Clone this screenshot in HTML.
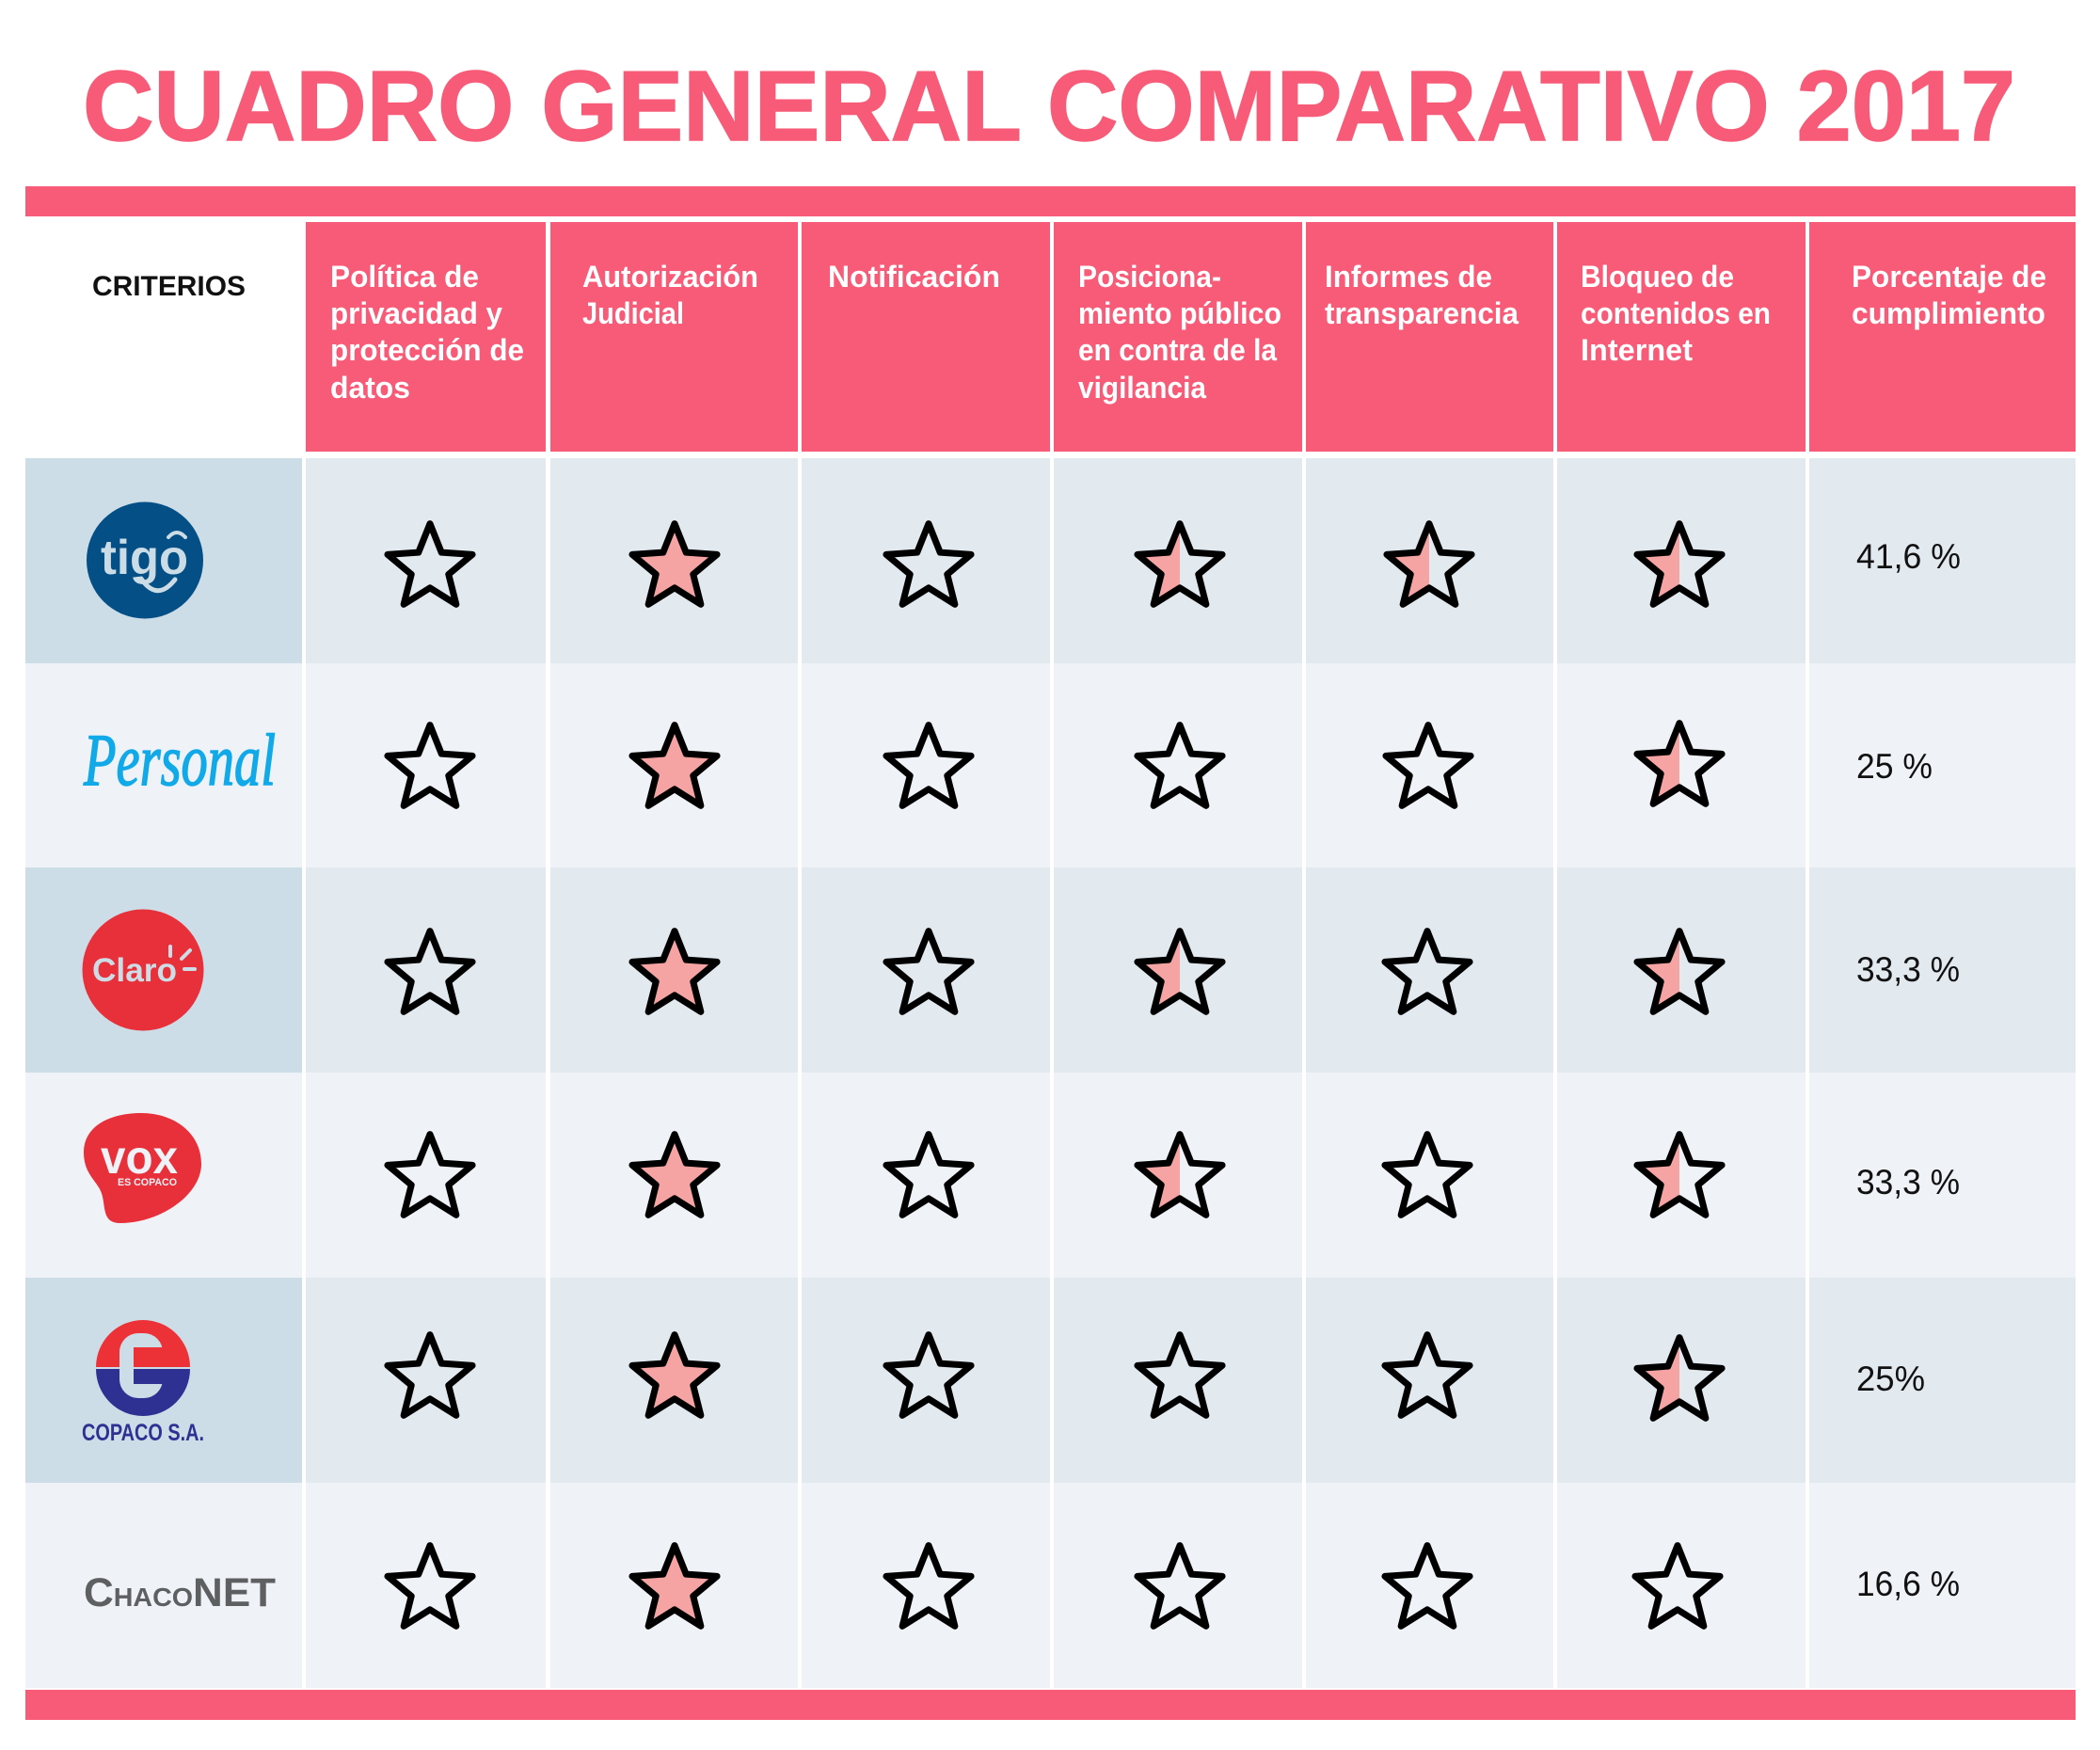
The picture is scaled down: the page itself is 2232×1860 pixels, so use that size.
<!DOCTYPE html>
<html><head><meta charset="utf-8"><style>
html,body{margin:0;padding:0;background:#fff;}
svg{display:block;}
text{font-family:"Liberation Sans",sans-serif;}
</style></head><body>
<svg width="2232" height="1860" viewBox="0 0 2232 1860" xmlns="http://www.w3.org/2000/svg">
<defs>
<path id="st" d="M0,-47.4 L12.23,-16.83 L45.08,-14.65 L19.78,6.43 L27.86,38.35 L0,20.8 L-27.86,38.35 L-19.78,6.43 L-45.08,-14.65 L-12.23,-16.83 Z"/>
<clipPath id="lh"><rect x="-60" y="-60" width="60" height="120"/></clipPath>
</defs>
<rect width="2232" height="1860" fill="#ffffff"/>
<text x="88" y="149" font-size="106" font-weight="bold" fill="#f75b77" stroke="#f75b77" stroke-width="1.5" textLength="2054" lengthAdjust="spacingAndGlyphs">CUADRO GENERAL COMPARATIVO 2017</text>
<rect x="27" y="198" width="2179" height="32" fill="#f75b77"/>
<g fill="#f75b77">
<rect x="325" y="236" width="255" height="244"/>
<rect x="585" y="236" width="263" height="244"/>
<rect x="852" y="236" width="264" height="244"/>
<rect x="1120" y="236" width="264" height="244"/>
<rect x="1388" y="236" width="263" height="244"/>
<rect x="1655" y="236" width="264" height="244"/>
<rect x="1923" y="236" width="283" height="244"/>
</g>
<text x="98" y="314" font-size="30" font-weight="bold" fill="#111" textLength="163" lengthAdjust="spacingAndGlyphs">CRITERIOS</text>
<g font-size="32" font-weight="bold" fill="#ffffff">
<text x="351" y="305" textLength="158" lengthAdjust="spacingAndGlyphs">Política de</text>
<text x="351" y="344" textLength="183" lengthAdjust="spacingAndGlyphs">privacidad y</text>
<text x="351" y="383" textLength="206" lengthAdjust="spacingAndGlyphs">protección de</text>
<text x="351" y="423" textLength="85" lengthAdjust="spacingAndGlyphs">datos</text>
<text x="619" y="305" textLength="187" lengthAdjust="spacingAndGlyphs">Autorización</text>
<text x="619" y="344" textLength="108" lengthAdjust="spacingAndGlyphs">Judicial</text>
<text x="880" y="305" textLength="183" lengthAdjust="spacingAndGlyphs">Notificación</text>
<text x="1146" y="305" textLength="152" lengthAdjust="spacingAndGlyphs">Posiciona-</text>
<text x="1146" y="344" textLength="216" lengthAdjust="spacingAndGlyphs">miento público</text>
<text x="1146" y="383" textLength="211" lengthAdjust="spacingAndGlyphs">en contra de la</text>
<text x="1146" y="423" textLength="136" lengthAdjust="spacingAndGlyphs">vigilancia</text>
<text x="1408" y="305" textLength="178" lengthAdjust="spacingAndGlyphs">Informes de</text>
<text x="1408" y="344" textLength="206" lengthAdjust="spacingAndGlyphs">transparencia</text>
<text x="1680" y="305" textLength="163" lengthAdjust="spacingAndGlyphs">Bloqueo de</text>
<text x="1680" y="344" textLength="202" lengthAdjust="spacingAndGlyphs">contenidos en</text>
<text x="1680" y="383" textLength="119" lengthAdjust="spacingAndGlyphs">Internet</text>
<text x="1968" y="305" textLength="207" lengthAdjust="spacingAndGlyphs">Porcentaje de</text>
<text x="1968" y="344" textLength="206" lengthAdjust="spacingAndGlyphs">cumplimiento</text>
</g>
<g>
<rect x="27" y="487" width="294" height="218" fill="#cddde7"/>
<g fill="#e2eaf0">
<rect x="325" y="487" width="255" height="218"/><rect x="585" y="487" width="263" height="218"/><rect x="852" y="487" width="264" height="218"/><rect x="1120" y="487" width="264" height="218"/><rect x="1388" y="487" width="263" height="218"/><rect x="1655" y="487" width="264" height="218"/><rect x="1923" y="487" width="283" height="218"/>
</g>
<g fill="#eff3f7">
<rect x="27" y="705" width="294" height="217"/>
<rect x="325" y="705" width="255" height="217"/><rect x="585" y="705" width="263" height="217"/><rect x="852" y="705" width="264" height="217"/><rect x="1120" y="705" width="264" height="217"/><rect x="1388" y="705" width="263" height="217"/><rect x="1655" y="705" width="264" height="217"/><rect x="1923" y="705" width="283" height="217"/>
</g>
<rect x="27" y="922" width="294" height="218" fill="#cddde7"/>
<g fill="#e2eaf0">
<rect x="325" y="922" width="255" height="218"/><rect x="585" y="922" width="263" height="218"/><rect x="852" y="922" width="264" height="218"/><rect x="1120" y="922" width="264" height="218"/><rect x="1388" y="922" width="263" height="218"/><rect x="1655" y="922" width="264" height="218"/><rect x="1923" y="922" width="283" height="218"/>
</g>
<g fill="#eff3f7">
<rect x="27" y="1140" width="294" height="218"/>
<rect x="325" y="1140" width="255" height="218"/><rect x="585" y="1140" width="263" height="218"/><rect x="852" y="1140" width="264" height="218"/><rect x="1120" y="1140" width="264" height="218"/><rect x="1388" y="1140" width="263" height="218"/><rect x="1655" y="1140" width="264" height="218"/><rect x="1923" y="1140" width="283" height="218"/>
</g>
<rect x="27" y="1358" width="294" height="218" fill="#cddde7"/>
<g fill="#e2eaf0">
<rect x="325" y="1358" width="255" height="218"/><rect x="585" y="1358" width="263" height="218"/><rect x="852" y="1358" width="264" height="218"/><rect x="1120" y="1358" width="264" height="218"/><rect x="1388" y="1358" width="263" height="218"/><rect x="1655" y="1358" width="264" height="218"/><rect x="1923" y="1358" width="283" height="218"/>
</g>
<g fill="#eff3f7">
<rect x="27" y="1576" width="294" height="218"/>
<rect x="325" y="1576" width="255" height="218"/><rect x="585" y="1576" width="263" height="218"/><rect x="852" y="1576" width="264" height="218"/><rect x="1120" y="1576" width="264" height="218"/><rect x="1388" y="1576" width="263" height="218"/><rect x="1655" y="1576" width="264" height="218"/><rect x="1923" y="1576" width="283" height="218"/>
</g>
</g>
<rect x="27" y="1796" width="2179" height="32" fill="#f75b77"/>

<!-- tigo -->
<circle cx="154" cy="595.5" r="62" fill="#044f85"/>
<text x="107" y="610" font-size="52" font-weight="bold" fill="#cbdce6" textLength="93" lengthAdjust="spacingAndGlyphs">tigo</text>
<path d="M150,615 Q167,640 186,616" fill="none" stroke="#cbdce6" stroke-width="5" stroke-linecap="round"/>
<path d="M179,571 Q188,561 197,571" fill="none" stroke="#cbdce6" stroke-width="4" stroke-linecap="round"/>
<!-- Personal -->
<text x="89" y="834" style="font-family:'Liberation Serif',serif;font-style:italic" font-size="78" fill="#12a9e9" stroke="#12a9e9" stroke-width="1.5" textLength="204" lengthAdjust="spacingAndGlyphs">Personal</text>
<!-- Claro -->
<circle cx="152" cy="1031" r="64.5" fill="#e8303a"/>
<text x="98" y="1043" font-size="35" font-weight="bold" fill="#cddde7" textLength="90" lengthAdjust="spacingAndGlyphs">Claro</text>
<g stroke="#cddde7" stroke-width="4" stroke-linecap="round">
<line x1="181" y1="1006" x2="181" y2="1016"/>
<line x1="193" y1="1019" x2="202" y2="1010"/>
<line x1="196" y1="1030" x2="207" y2="1030"/>
</g>
<!-- VOX -->
<path d="M89,1225 C89,1196 118,1183 150,1183 C186,1183 214,1205 214,1237 C214,1270 170,1300 128,1300 C110,1300 112,1286 109,1272 C106,1256 89,1250 89,1225 Z" fill="#e8303a"/>
<text x="107" y="1247" font-size="50" font-weight="bold" fill="#eff3f7" textLength="82" lengthAdjust="spacingAndGlyphs">vox</text>
<text x="125" y="1260" font-size="11" font-weight="bold" fill="#eff3f7" textLength="63" lengthAdjust="spacingAndGlyphs">ES COPACO</text>
<!-- COPACO -->
<path d="M102,1453 A50,50 0 0 1 202,1453 Z" fill="#ec3237"/>
<path d="M102,1455 A50,50 0 0 0 202,1455 Z" fill="#2e3192"/>
<rect x="127" y="1417" width="46" height="69" rx="20" fill="#cddde7"/>
<rect x="142" y="1432" width="34" height="21" fill="#ec3237"/>
<rect x="142" y="1455" width="31" height="16" fill="#2e3192"/>
<rect x="100" y="1453" width="104" height="2" fill="#cddde7"/>
<text x="87" y="1531" font-size="25" font-weight="bold" fill="#2e3192" textLength="130" lengthAdjust="spacingAndGlyphs">COPACO S.A.</text>
<!-- CHACONET -->
<text x="89" y="1707" font-weight="bold" fill="#5e5f61" textLength="204" lengthAdjust="spacingAndGlyphs"><tspan font-size="43">C</tspan><tspan font-size="28">HACO</tspan><tspan font-size="43">NET</tspan></text>

<g stroke="#000" stroke-width="7" stroke-linejoin="round" fill="none">
<use href="#st" x="457" y="604"/>
<g transform="translate(717,604)"><use href="#st" fill="#f6a3a3"/></g>
<use href="#st" x="987" y="604"/>
<g transform="translate(1254,604)"><use href="#st" fill="#f6a3a3" stroke="none" clip-path="url(#lh)"/><use href="#st"/></g>
<g transform="translate(1519,604)"><use href="#st" fill="#f6a3a3" stroke="none" clip-path="url(#lh)"/><use href="#st"/></g>
<g transform="translate(1785,604)"><use href="#st" fill="#f6a3a3" stroke="none" clip-path="url(#lh)"/><use href="#st"/></g>

<use href="#st" x="457" y="818"/>
<g transform="translate(717,818)"><use href="#st" fill="#f6a3a3"/></g>
<use href="#st" x="987" y="818"/>
<use href="#st" x="1254" y="818"/>
<use href="#st" x="1518" y="818"/>
<g transform="translate(1785,816)"><use href="#st" fill="#f6a3a3" stroke="none" clip-path="url(#lh)"/><use href="#st"/></g>

<use href="#st" x="457" y="1037"/>
<g transform="translate(717,1037)"><use href="#st" fill="#f6a3a3"/></g>
<use href="#st" x="987" y="1037"/>
<g transform="translate(1254,1037)"><use href="#st" fill="#f6a3a3" stroke="none" clip-path="url(#lh)"/><use href="#st"/></g>
<use href="#st" x="1517" y="1037"/>
<g transform="translate(1785,1037)"><use href="#st" fill="#f6a3a3" stroke="none" clip-path="url(#lh)"/><use href="#st"/></g>

<use href="#st" x="457" y="1253"/>
<g transform="translate(717,1253)"><use href="#st" fill="#f6a3a3"/></g>
<use href="#st" x="987" y="1253"/>
<g transform="translate(1254,1253)"><use href="#st" fill="#f6a3a3" stroke="none" clip-path="url(#lh)"/><use href="#st"/></g>
<use href="#st" x="1517" y="1253"/>
<g transform="translate(1785,1253)"><use href="#st" fill="#f6a3a3" stroke="none" clip-path="url(#lh)"/><use href="#st"/></g>

<use href="#st" x="457" y="1466"/>
<g transform="translate(717,1466)"><use href="#st" fill="#f6a3a3"/></g>
<use href="#st" x="987" y="1466"/>
<use href="#st" x="1254" y="1466"/>
<use href="#st" x="1517" y="1466"/>
<g transform="translate(1785,1469)"><use href="#st" fill="#f6a3a3" stroke="none" clip-path="url(#lh)"/><use href="#st"/></g>

<use href="#st" x="457" y="1690"/>
<g transform="translate(717,1690)"><use href="#st" fill="#f6a3a3"/></g>
<use href="#st" x="987" y="1690"/>
<use href="#st" x="1254" y="1690"/>
<use href="#st" x="1517" y="1690"/>
<use href="#st" x="1783" y="1690"/>
</g>

<g font-size="37" fill="#111">
<text x="1973" y="604" textLength="111" lengthAdjust="spacingAndGlyphs">41,6 %</text>
<text x="1973" y="827" textLength="81" lengthAdjust="spacingAndGlyphs">25 %</text>
<text x="1973" y="1043" textLength="110" lengthAdjust="spacingAndGlyphs">33,3 %</text>
<text x="1973" y="1269" textLength="110" lengthAdjust="spacingAndGlyphs">33,3 %</text>
<text x="1973" y="1478" textLength="73" lengthAdjust="spacingAndGlyphs">25%</text>
<text x="1973" y="1696" textLength="110" lengthAdjust="spacingAndGlyphs">16,6 %</text>
</g>
</svg>
</body></html>
